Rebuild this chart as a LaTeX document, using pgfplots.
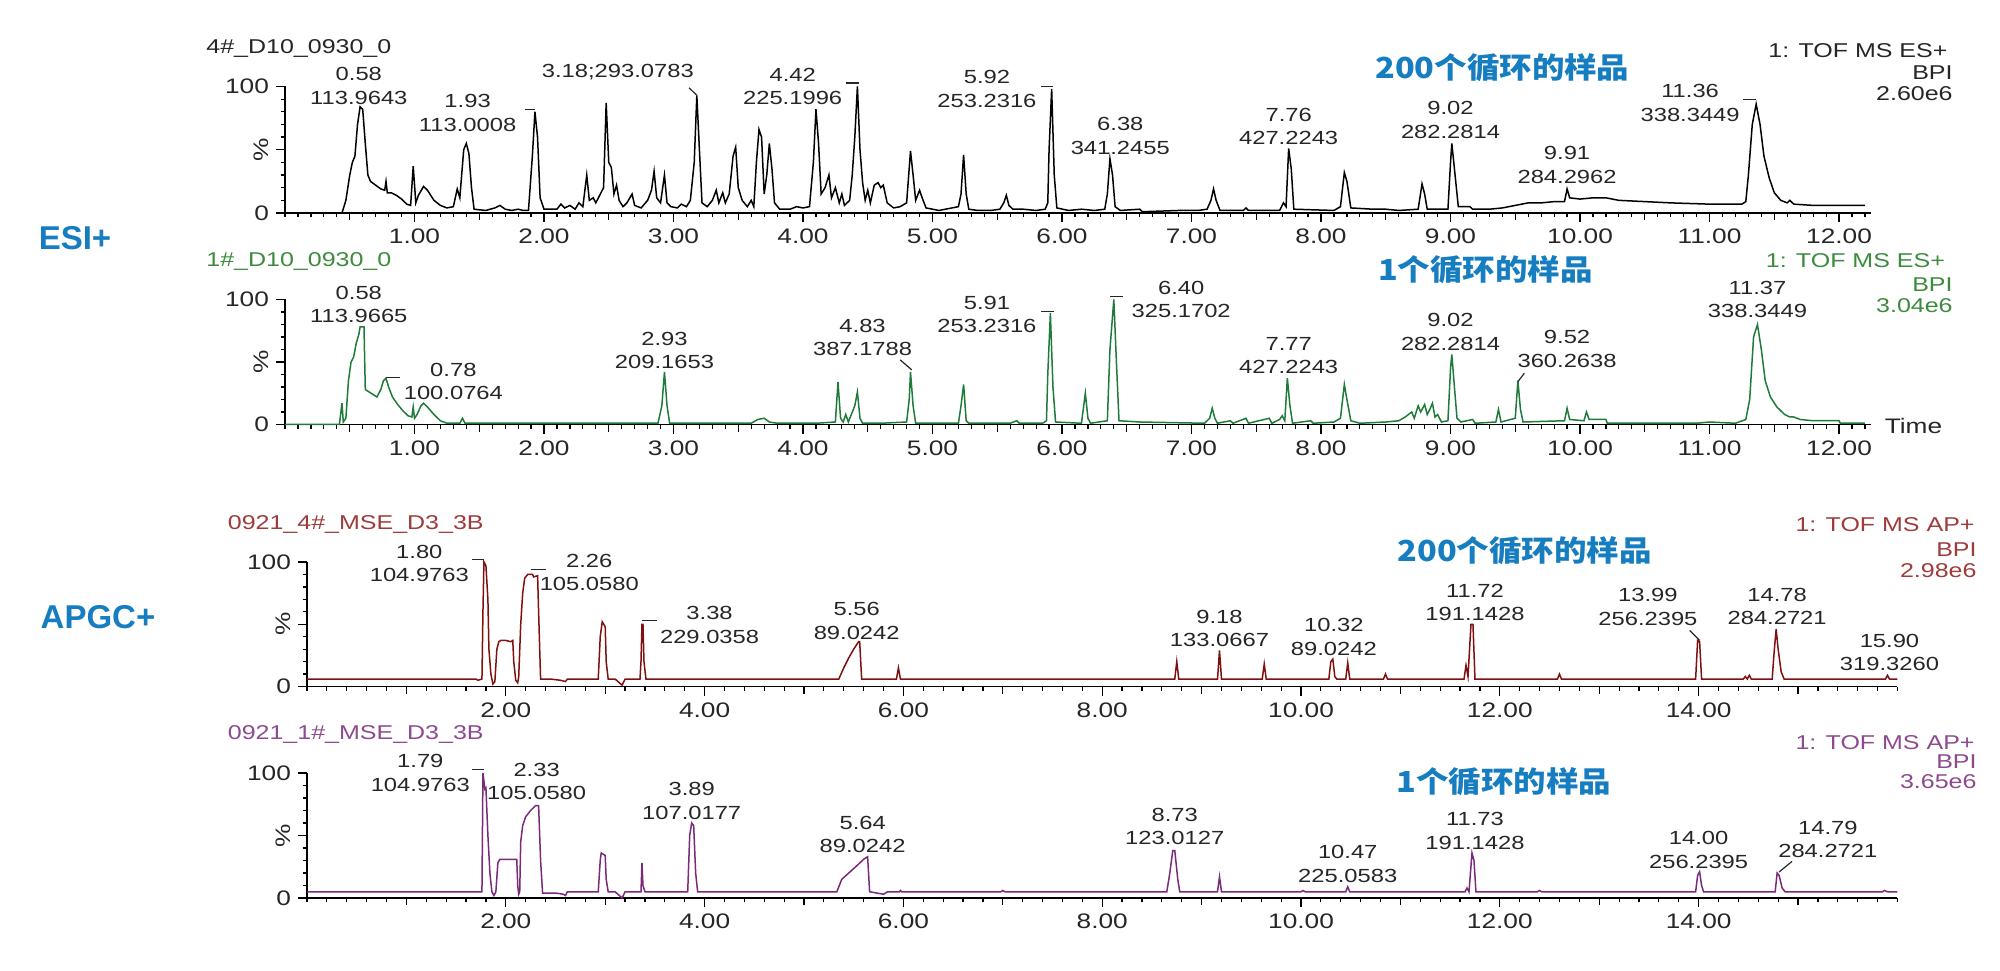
\documentclass[border=0pt]{standalone}
\usepackage{pgfplots}
\pgfplotsset{compat=1.18}
\usepackage{graphicx}
\usepackage{fontspec}
\setmainfont{Liberation Sans}[FakeStretch=1.25]
\newfontfamily\plainsans{Liberation Sans}
\newfontfamily\cjk{Noto Sans CJK SC}[FakeStretch=1.12]
\definecolor{blu}{HTML}{157DC0}
\definecolor{lab}{HTML}{262626}
\definecolor{grn}{HTML}{1E7B3A}
\definecolor{grnt}{HTML}{3D8B3D}
\definecolor{dred}{HTML}{7F1010}
\definecolor{dredt}{HTML}{9E3B3B}
\definecolor{purp}{HTML}{7A2A7A}
\definecolor{purpt}{HTML}{8E4A8E}
\pgfplotsset{
  ms/.style={
    scale only axis, clip=false, enlargelimits=false,
    axis x line=bottom, axis y line=left,
    axis line style={-, line width=0.9pt, black},
    ymin=0, ymax=100,
    ytick={0,50,100}, yticklabels={0,\rotatebox{90}{\%},100},
    minor ytick={10,20,30,40,60,70,80,90},
    tick align=outside, tick style={black, line width=0.6pt},
    major tick length=4.5pt, minor tick length=2.2pt,
    tick label style={font=\fontsize{10.5}{12}\selectfont, text=lab},
    extra x tick labels={},
    extra x tick style={major tick length=3.6pt},
  },
  esi/.style={ms, xmin=0, xmax=12.25, xtick={1,...,12},
    xticklabels={1.00,2.00,3.00,4.00,5.00,6.00,7.00,8.00,9.00,10.00,11.00,12.00},
    minor xtick={0,0.1,...,12.2}, extra x ticks={0.5,1.5,...,11.5}},
  apgc/.style={ms, xmin=0, xmax=16.0, xtick={2,4,...,14},
    xticklabels={2.00,4.00,6.00,8.00,10.00,12.00,14.00},
    minor xtick={0,0.2,...,16}, extra x ticks={1,3,...,15}},
}
\tikzset{
  pk/.style={font=\fontsize{9.5}{11.7}\selectfont, text=lab, align=center, inner sep=0pt},
  inf/.style={font=\fontsize{10}{12}\selectfont, inner sep=0pt, anchor=east},
  ttl/.style={font=\fontsize{10}{12}\selectfont, inner sep=0pt, anchor=west},
  cn/.style={font=\cjk\bfseries\fontsize{14.5}{16}\selectfont, text=blu, inner sep=0pt},
}
\newcommand{\pk}[4]{\node[pk] at (axis cs:#1,#2) {#3\\#4};}
\newcommand{\pbar}[3]{\draw[lab, line width=0.6pt] (axis cs:#1,#3) -- (axis cs:#2,#3);}
\begin{document}
\begin{tikzpicture}
\path[use as bounding box] (0pt,0pt) rectangle (1000pt,485pt);
\node[font=\plainsans\bfseries\fontsize{16.5}{18}\selectfont, text=blu] at (37.5pt,366pt) {ESI+};
\node[font=\plainsans\bfseries\fontsize{16.5}{18}\selectfont, text=blu] at (49pt,176.5pt) {APGC+};

% ---------- Panel 1 ----------
\begin{axis}[esi, at={(142.5pt,378.5pt)}, anchor=south west, width=793.2pt, height=63.25pt]
\addplot[black, line width=0.75pt] coordinates {
(0,0) (0.44,0) (0.47,10) (0.50,30) (0.52,40) (0.54,45) (0.56,70) (0.58,84) (0.60,82) (0.62,55) (0.64,30) (0.66,25) (0.70,22) (0.74,19) (0.77,18) (0.78,25) (0.79,16) (0.82,16) (0.86,14) (0.90,11) (0.94,7) (0.97,6) (0.99,37) (1.01,8) (1.03,14) (1.07,21) (1.10,18) (1.15,10) (1.20,6) (1.25,4) (1.30,5) (1.33,19) (1.35,12) (1.38,50) (1.40,55) (1.42,47) (1.44,20) (1.46,3) (1.55,2) (1.62,4) (1.66,6) (1.70,3) (1.75,2) (1.80,3) (1.84,2) (1.88,2) (1.91,45) (1.93,80) (1.95,60) (1.97,12) (2.00,3) (2.10,3) (2.13,7) (2.16,4) (2.20,6) (2.24,3) (2.27,8) (2.30,5) (2.33,30) (2.35,10) (2.38,12) (2.40,8) (2.43,14) (2.46,20) (2.48,87) (2.50,40) (2.52,36) (2.54,15) (2.56,22) (2.58,10) (2.61,5) (2.64,8) (2.68,15) (2.70,6) (2.75,4) (2.80,10) (2.83,18) (2.85,33) (2.87,12) (2.90,8) (2.93,30) (2.95,8) (2.98,5) (3.03,4) (3.06,7) (3.10,5) (3.13,10) (3.16,40) (3.18,93) (3.20,50) (3.22,8) (3.26,5) (3.30,10) (3.33,18) (3.35,8) (3.38,16) (3.40,8) (3.43,15) (3.46,45) (3.48,52) (3.50,20) (3.53,10) (3.57,5) (3.60,10) (3.62,5) (3.64,40) (3.66,66) (3.68,60) (3.70,15) (3.72,30) (3.74,55) (3.76,35) (3.78,8) (3.82,3) (3.90,3) (3.95,5) (4.00,4) (4.05,5) (4.08,40) (4.10,82) (4.12,55) (4.14,15) (4.17,20) (4.20,30) (4.22,12) (4.25,20) (4.28,8) (4.30,15) (4.32,6) (4.36,10) (4.38,30) (4.40,60) (4.42,100) (4.44,50) (4.46,24) (4.48,10) (4.50,18) (4.52,8) (4.55,22) (4.58,24) (4.60,20) (4.62,22) (4.65,8) (4.70,4) (4.75,5) (4.80,8) (4.83,49) (4.85,30) (4.87,10) (4.90,18) (4.92,12) (4.95,4) (5.00,3) (5.05,2) (5.10,3) (5.15,4) (5.20,5) (5.22,15) (5.24,46) (5.26,15) (5.28,3) (5.35,2) (5.45,2) (5.52,3) (5.55,8) (5.57,14) (5.59,6) (5.62,3) (5.70,3) (5.80,2) (5.87,3) (5.89,8) (5.90,50) (5.92,98) (5.94,30) (5.96,4) (6.05,2) (6.15,3) (6.25,2) (6.33,3) (6.35,15) (6.37,43) (6.39,30) (6.41,5) (6.45,2) (6.60,3) (6.62,1) (6.90,2) (7.05,2) (7.12,3) (7.15,10) (7.17,19) (7.19,10) (7.22,2) (7.40,2) (7.42,4) (7.44,2) (7.68,2) (7.71,8) (7.73,5) (7.75,51) (7.77,35) (7.79,3) (8.10,2) (8.15,5) (8.18,32) (8.20,25) (8.23,4) (8.40,3) (8.50,3) (8.60,2) (8.75,3) (8.78,23) (8.80,15) (8.82,3) (8.98,3) (9.00,40) (9.01,55) (9.03,35) (9.06,5) (9.15,5) (9.17,3) (9.30,3) (9.40,4) (9.50,6) (9.60,8) (9.70,8) (9.80,9) (9.88,9) (9.90,19) (9.92,12) (10.00,11) (10.10,12) (10.20,12) (10.30,10) (10.50,9) (10.70,8) (11.00,7) (11.25,7) (11.28,9) (11.30,30) (11.33,70) (11.36,86) (11.39,70) (11.42,45) (11.46,28) (11.50,16) (11.55,10) (11.60,8) (11.62,10) (11.65,7) (11.80,6) (12.00,6) (12.20,6)
};
\node[ttl, text=lab] at (axis cs:-0.61,130) {4\#\_D10\_0930\_0};
\pk{0.57}{100.5}{0.58}{113.9643}
\pk{1.41}{79}{1.93}{113.0008}
\pbar{1.85}{1.93}{82}
\node[pk] at (axis cs:2.57,111) {3.18;293.0783};
\draw[lab, line width=0.6pt] (axis cs:3.12,99) -- (axis cs:3.18,93);
\pk{3.92}{100}{4.42}{225.1996}
\pbar{4.33}{4.43}{102.7}
\pk{5.42}{98}{5.92}{253.2316}
\pbar{5.84}{5.93}{100}
\pk{6.45}{61}{6.38}{341.2455}
\pk{7.75}{68.5}{7.76}{427.2243}
\pk{9.00}{73.7}{9.02}{282.2814}
\pk{9.90}{38}{9.91}{284.2962}
\pk{10.85}{87}{11.36}{338.3449}
\pbar{11.26}{11.36}{90}
\node[inf, text=lab] at (axis cs:12.84,128) {1: TOF MS ES+};
\node[inf, text=lab] at (axis cs:12.88,111) {BPI};
\node[inf, text=lab] at (axis cs:12.88,94) {2.60e6};
\node[cn] at (axis cs:9.40,115) {200个循环的样品};
\end{axis}

% ---------- Panel 2 ----------
\begin{axis}[esi, at={(142.5pt,272.75pt)}, anchor=south west, width=793.2pt, height=62.5pt]
\addplot[grn, line width=0.75pt] coordinates {
(0,0) (0.42,0) (0.44,17) (0.45,2) (0.47,5) (0.49,35) (0.51,50) (0.53,54) (0.55,65) (0.57,72) (0.58,78) (0.61,78) (0.62,28) (0.65,26) (0.68,24) (0.71,22) (0.74,28) (0.76,35) (0.78,37) (0.80,30) (0.83,22) (0.87,16) (0.91,11) (0.95,7) (0.98,6) (0.99,14) (1.00,5) (1.02,8) (1.05,15) (1.07,17) (1.10,14) (1.15,8) (1.20,3) (1.25,1) (1.35,1) (1.37,5) (1.39,1) (1.50,1) (2.00,1) (2.50,1) (2.88,1) (2.91,15) (2.93,42) (2.95,15) (2.97,1) (3.60,1) (3.65,4) (3.70,5) (3.74,2) (3.80,1) (4.10,1) (4.25,2) (4.27,34) (4.29,5) (4.31,2) (4.33,8) (4.35,2) (4.40,15) (4.42,26) (4.44,5) (4.46,1) (4.60,1) (4.80,2) (4.82,20) (4.83,42) (4.85,15) (4.87,1) (5.20,1) (5.22,15) (5.24,32) (5.26,3) (5.28,1) (5.60,1) (5.65,3) (5.67,1) (5.85,1) (5.88,3) (5.89,40) (5.91,89) (5.93,30) (5.95,2) (6.15,1) (6.18,25) (6.20,5) (6.22,1) (6.35,3) (6.37,60) (6.40,100) (6.42,50) (6.44,3) (6.60,2) (7.10,1) (7.14,5) (7.16,13) (7.18,5) (7.20,1) (7.30,3) (7.32,1) (7.42,5) (7.44,1) (7.60,5) (7.62,1) (7.68,4) (7.70,7) (7.72,3) (7.74,37) (7.76,15) (7.78,1) (7.92,3) (7.94,1) (8.10,2) (8.15,5) (8.18,32) (8.20,20) (8.23,3) (8.30,1) (8.50,2) (8.60,3) (8.65,6) (8.70,10) (8.72,5) (8.75,15) (8.77,10) (8.80,16) (8.82,8) (8.84,12) (8.86,17) (8.88,6) (8.90,8) (8.93,2) (8.98,3) (9.00,45) (9.01,56) (9.03,30) (9.05,5) (9.08,2) (9.17,4) (9.19,1) (9.35,2) (9.37,12) (9.39,2) (9.50,5) (9.52,35) (9.54,12) (9.56,2) (9.88,3) (9.90,13) (9.92,4) (10.03,3) (10.05,10) (10.07,4) (10.20,4) (10.21,1) (10.90,1) (11.00,2) (11.20,1) (11.28,4) (11.31,20) (11.34,70) (11.37,80) (11.40,60) (11.43,35) (11.47,22) (11.52,14) (11.58,8) (11.62,6) (11.65,6) (11.70,4) (11.80,3) (12.00,3) (12.01,1) (12.20,1)
};
\node[ttl, text=grnt] at (axis cs:-0.61,130) {1\#\_D10\_0930\_0};
\pk{0.57}{96}{0.58}{113.9665}
\pk{1.30}{34.3}{0.78}{100.0764}
\pbar{0.78}{0.89}{37.5}
\pk{2.93}{59}{2.93}{209.1653}
\pk{4.46}{69.6}{4.83}{387.1788}
\draw[lab, line width=0.6pt] (axis cs:4.75,51.7) -- (axis cs:4.84,43.7);
\pk{5.42}{88}{5.91}{253.2316}
\pbar{5.84}{5.94}{90.6}
\pk{6.92}{100}{6.40}{325.1702}
\pbar{6.37}{6.47}{102.7}
\pk{7.75}{55}{7.77}{427.2243}
\pk{9.00}{74}{9.02}{282.2814}
\pk{9.90}{60.5}{9.52}{360.2638}
\draw[lab, line width=0.6pt] (axis cs:9.57,41) -- (axis cs:9.52,34.3);
\pk{11.37}{100}{11.37}{338.3449}
\node[inf, text=grnt] at (axis cs:12.82,131) {1: TOF MS ES+};
\node[inf, text=grnt] at (axis cs:12.88,112) {BPI};
\node[inf, text=grnt] at (axis cs:12.88,95) {3.04e6};
\node[cn] at (axis cs:9.27,124) {1个循环的样品};
\node[ttl, text=lab, font=\fontsize{10.5}{12}\selectfont] at (axis cs:12.35,-1) {Time};
\end{axis}

% ---------- Panel 3 ----------
\begin{axis}[apgc, at={(153.5pt,141.75pt)}, anchor=south west, width=795.2pt, height=62.25pt]
\addplot[dred, line width=0.75pt] coordinates {
(0,6) (1.70,6) (1.72,5) (1.76,6) (1.77,60) (1.78,100) (1.80,97) (1.82,70) (1.83,30) (1.85,10) (1.87,2) (1.89,4) (1.91,30) (1.93,36) (1.95,37) (2.00,37) (2.05,36) (2.07,37) (2.08,20) (2.10,5) (2.12,3) (2.13,8) (2.15,50) (2.17,75) (2.19,87) (2.22,90) (2.27,90) (2.28,88) (2.32,89) (2.33,60) (2.35,6) (2.45,6) (2.55,5) (2.60,4) (2.62,6) (2.93,6) (2.95,40) (2.97,52) (3.00,48) (3.01,20) (3.03,6) (3.10,6) (3.17,1) (3.20,6) (3.35,6) (3.36,20) (3.37,50) (3.38,50) (3.39,20) (3.41,6) (5.35,6) (5.40,15) (5.45,23) (5.50,30) (5.55,36) (5.56,36) (5.58,6) (5.93,6) (5.95,15) (5.97,6) (8.73,6) (8.75,20) (8.77,6) (9.16,6) (9.18,29) (9.20,6) (9.61,6) (9.63,18) (9.65,6) (10.28,6) (10.30,20) (10.32,22) (10.34,8) (10.36,6) (10.45,6) (10.47,19) (10.49,6) (10.83,6) (10.85,10) (10.87,6) (11.64,6) (11.66,17) (11.68,8) (11.71,50) (11.73,50) (11.75,6) (12.58,6) (12.60,10) (12.62,6) (13.97,6) (13.99,37) (14.01,36) (14.03,6) (14.45,6) (14.47,8) (14.49,6) (14.51,9) (14.53,6) (14.74,6) (14.76,28) (14.78,46) (14.80,30) (14.83,12) (14.86,6) (15.88,6) (15.90,9) (15.92,6) (16.00,6)
};
\node[ttl, text=dredt] at (axis cs:-0.80,130.5) {0921\_4\#\_MSE\_D3\_3B};
\pk{1.13}{98.8}{1.80}{104.9763}
\pbar{1.66}{1.78}{102}
\pk{2.84}{91.4}{2.26}{105.0580}
\pbar{2.25}{2.40}{94}
\pk{4.05}{49.5}{3.38}{229.0358}
\pbar{3.37}{3.52}{52.8}
\pk{5.53}{52.6}{5.56}{89.0242}
\pk{9.18}{46.4}{9.18}{133.0667}
\pk{10.33}{39.8}{10.32}{89.0242}
\pk{11.75}{67.5}{11.72}{191.1428}
\pk{13.49}{64}{13.99}{256.2395}
\draw[lab, line width=0.6pt] (axis cs:13.91,45) -- (axis cs:14.01,37);
\pk{14.79}{64.3}{14.78}{284.2721}
\pk{15.92}{27.2}{15.90}{319.3260}
\node[inf, text=dredt] at (axis cs:16.78,130) {1: TOF MS AP+};
\node[inf, text=dredt] at (axis cs:16.80,110) {BPI};
\node[inf, text=dredt] at (axis cs:16.80,92.8) {2.98e6};
\node[cn] at (axis cs:12.25,108.8) {200个循环的样品};
\end{axis}

% ---------- Panel 4 ----------
\begin{axis}[apgc, at={(153.5pt,36pt)}, anchor=south west, width=795.2pt, height=62.5pt]
\addplot[purp, line width=0.75pt] coordinates {
(0,5) (1.74,5) (1.76,5) (1.77,100) (1.79,87) (1.80,88) (1.82,50) (1.84,20) (1.86,5) (1.88,2) (1.90,5) (1.92,28) (1.94,31) (2.00,31) (2.11,31) (2.12,10) (2.13,3) (2.14,5) (2.15,45) (2.17,58) (2.20,65) (2.25,70) (2.30,74) (2.33,74) (2.35,30) (2.37,4) (2.50,4) (2.58,3) (2.60,2) (2.62,5) (2.93,5) (2.95,30) (2.96,36) (3.00,34) (3.01,15) (3.03,5) (3.10,5) (3.17,0) (3.20,5) (3.36,5) (3.37,28) (3.38,10) (3.40,5) (3.83,5) (3.85,50) (3.87,60) (3.89,58) (3.91,20) (3.93,5) (5.33,5) (5.38,15) (5.45,20) (5.52,25) (5.60,31) (5.64,33) (5.66,5) (5.80,3) (5.84,5) (5.96,5) (5.97,6) (5.98,5) (6.98,5) (7.00,6) (7.02,5) (8.65,5) (8.68,20) (8.71,38) (8.73,38) (8.76,15) (8.78,5) (9.16,5) (9.18,17) (9.20,5) (10.00,5) (10.02,6) (10.04,5) (10.45,5) (10.47,9) (10.49,5) (11.00,5) (11.65,5) (11.67,8) (11.69,5) (11.72,36) (11.74,30) (11.76,5) (12.38,5) (12.40,6) (12.42,5) (13.97,5) (13.99,18) (14.01,21) (14.03,10) (14.05,5) (14.77,5) (14.79,20) (14.81,18) (14.84,8) (14.87,5) (15.85,5) (15.87,6) (15.90,5) (16.00,5)
};
\node[ttl, text=purpt] at (axis cs:-0.80,130.4) {0921\_1\#\_MSE\_D3\_3B};
\pk{1.14}{100}{1.79}{104.9763}
\pbar{1.66}{1.78}{102.7}
\pk{2.31}{93}{2.33}{105.0580}
\pk{3.87}{77.6}{3.89}{107.0177}
\pk{5.59}{50.7}{5.64}{89.0242}
\pk{8.73}{57.3}{8.73}{123.0127}
\pk{10.47}{27.3}{10.47}{225.0583}
\pk{11.75}{53.7}{11.73}{191.1428}
\pk{14.00}{38.4}{14.00}{256.2395}
\pk{15.30}{46.7}{14.79}{284.2721}
\draw[lab, line width=0.6pt] (axis cs:14.94,29.3) -- (axis cs:14.81,20.8);
\node[inf, text=purpt] at (axis cs:16.78,124) {1: TOF MS AP+};
\node[inf, text=purpt] at (axis cs:16.80,109.3) {BPI};
\node[inf, text=purpt] at (axis cs:16.80,93.3) {3.65e6};
\node[cn] at (axis cs:12.04,93.3) {1个循环的样品};
\end{axis}
\end{tikzpicture}
\end{document}
